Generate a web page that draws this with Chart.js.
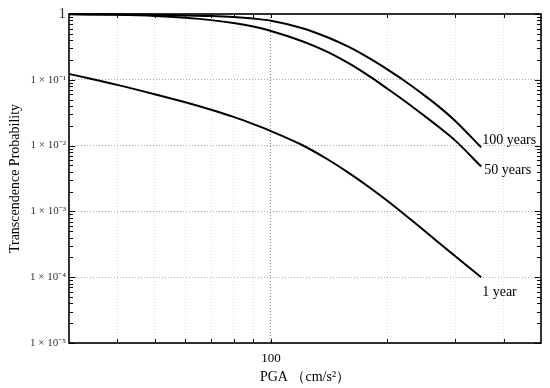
<!DOCTYPE html>
<html><head><meta charset="utf-8">
<script src="https://cdn.jsdelivr.net/npm/chart.js@4.4.1/dist/chart.umd.min.js"></script>
<style>html,body{margin:0;padding:0;background:#fff}#wrap{width:550px;height:388px}</style>
</head><body><div id="wrap"><canvas id="c" width="550" height="388"></canvas></div>
<script>
// ---- data ----
const pga      = [30, 40, 50, 60, 70, 80, 90, 100, 120, 140, 160, 180, 200, 220, 250, 270, 300, 350];
const years100 = [1.0, 0.985, 0.970, 0.953, 0.932, 0.900, 0.852, 0.792, 0.614, 0.443, 0.310, 0.211, 0.144, 0.0994, 0.0575, 0.0405, 0.0237, 0.0094];
const years50  = [0.99, 0.970, 0.933, 0.875, 0.807, 0.730, 0.645, 0.553, 0.389, 0.266, 0.174, 0.1126, 0.0735, 0.0494, 0.0281, 0.0198, 0.0119, 0.0048];
const year1    = [0.123, 0.0837, 0.0603, 0.0455, 0.035, 0.0273, 0.0212, 0.0166, 0.0103, 0.0062, 0.00376, 0.00231, 0.00145, 0.00093, 0.000505, 0.000345, 0.000208, 0.0001];
const seriesLabels = ['100 years', '50 years', '1 year'];
const xTickValues = [40, 50, 60, 70, 80, 90, 100, 200, 300, 400];
const xTickLabels = ['', '', '', '', '', '', '100', '', '', ''];
const yTickValues = [1e-5, 1e-4, 1e-3, 1e-2, 1e-1, 1];
const yTickLabels = ['1 × 10⁻⁵', '1 × 10⁻⁴', '1 × 10⁻³', '1 × 10⁻²', '1 × 10⁻¹', '1'];
const yMinorMultipliers = [2, 3, 4, 5, 6, 7, 8, 9];
const xRange = [30, 500];
const yRange = [1e-5, 1];
const xTitle = 'PGA （cm/s²）';
const yTitle = 'Transcendence Probability';

const SERIF = "'Liberation Serif', 'Times New Roman', serif";

function toPoints(ys) { return pga.map((x, i) => ({x: x, y: ys[i]})); }

const labelOffsets = [[1, -7], [3, 4], [1, 15]];

const endLabels = {
  id: 'endLabels',
  afterDatasetsDraw(chart) {
    const ctx = chart.ctx;
    ctx.save();
    ctx.font = '14px ' + SERIF;
    ctx.fillStyle = '#000';
    ctx.textAlign = 'left';
    ctx.textBaseline = 'middle';
    chart.data.datasets.forEach((ds, i) => {
      const meta = chart.getDatasetMeta(i);
      const last = meta.data[meta.data.length - 1];
      ctx.fillText(ds.label, last.x + labelOffsets[i][0], last.y + labelOffsets[i][1]);
    });
    ctx.restore();
  }
};

const frame = {
  id: 'frame',
  afterDraw(chart) {
    const {ctx, chartArea: a, scales: {x, y}} = chart;
    ctx.save();
    ctx.strokeStyle = '#000';
    ctx.lineWidth = 1;
    ctx.beginPath();
    xTickValues.forEach(v => {
      const px = Math.round(x.getPixelForValue(v)) + 0.5;
      ctx.moveTo(px, a.bottom); ctx.lineTo(px, a.bottom - 4);
      ctx.moveTo(px, a.top); ctx.lineTo(px, a.top + 4);
    });
    for (let k = Math.log10(yRange[0]); k < Math.log10(yRange[1]) + 0.5; k++) {
      const base = Math.pow(10, k);
      const py = Math.round(y.getPixelForValue(base)) + 0.5;
      ctx.moveTo(a.left, py); ctx.lineTo(a.left + 6, py);
      ctx.moveTo(a.right, py); ctx.lineTo(a.right - 6, py);
      if (base < yRange[1]) {
        yMinorMultipliers.forEach(m => {
          const pm = Math.round(y.getPixelForValue(base * m)) + 0.5;
          ctx.moveTo(a.left, pm); ctx.lineTo(a.left + 4, pm);
          ctx.moveTo(a.right, pm); ctx.lineTo(a.right - 4, pm);
        });
      }
    }
    ctx.stroke();
    ctx.lineWidth = 1.6;
    ctx.strokeRect(a.left, a.top, a.right - a.left, a.bottom - a.top);
    ctx.restore();
  }
};

new Chart(document.getElementById('c'), {
  type: 'line',
  data: {
    datasets: [
      {label: seriesLabels[0], data: toPoints(years100)},
      {label: seriesLabels[1], data: toPoints(years50)},
      {label: seriesLabels[2], data: toPoints(year1)}
    ].map(d => Object.assign(d, {
      borderColor: '#000', borderWidth: 2, pointRadius: 0, fill: false,
      cubicInterpolationMode: 'monotone', clip: false
    }))
  },
  options: {
    responsive: false, animation: false, devicePixelRatio: 1,
    layout: {padding: {left: 0, top: 14, right: 9, bottom: 0}},
    plugins: {legend: {display: false}, tooltip: {enabled: false}},
    scales: {
      x: {
        type: 'logarithmic', min: xRange[0], max: xRange[1],
        afterBuildTicks: s => { s.ticks = xTickValues.map(v => ({value: v})); },
        afterFit: s => { s.height = 45; },
        ticks: {
          autoSkip: false, maxRotation: 0, padding: 8, color: '#000',
          font: {family: SERIF, size: 13},
          callback: (v) => { const i = xTickValues.indexOf(v); return i >= 0 ? xTickLabels[i] : ''; }
        },
        grid: {
          drawTicks: false,
          color: c => (c.tick && c.tick.value === 100) ? '#8a8a8a' : '#dcdcdc',
          lineWidth: 1
        },
        border: {display: false, dash: [1, 2]},
        title: {display: true, text: xTitle, color: '#000', font: {family: SERIF, size: 14}, padding: {top: 0, bottom: 2}}
      },
      y: {
        type: 'logarithmic', min: yRange[0], max: yRange[1],
        afterBuildTicks: s => { s.ticks = yTickValues.map(v => ({value: v})); },
        afterFit: s => { s.width = 69; },
        ticks: {
          autoSkip: false, padding: 3, color: '#333',
          font: c => (c.tick && c.tick.value === 1) ? {family: SERIF, size: 15} : {family: SERIF, size: 11},
          callback: (v) => { const i = yTickValues.findIndex(t => Math.abs(t - v) / t < 1e-6); return i >= 0 ? yTickLabels[i] : ''; }
        },
        grid: {drawTicks: false, color: '#a8a8a8', lineWidth: 1},
        border: {display: false, dash: [1, 2]},
        title: {display: true, text: yTitle, color: '#000', font: {family: SERIF, size: 14}, padding: {top: 7, bottom: 0}}
      }
    }
  },
  plugins: [endLabels, frame]
});
</script>
</body></html>
